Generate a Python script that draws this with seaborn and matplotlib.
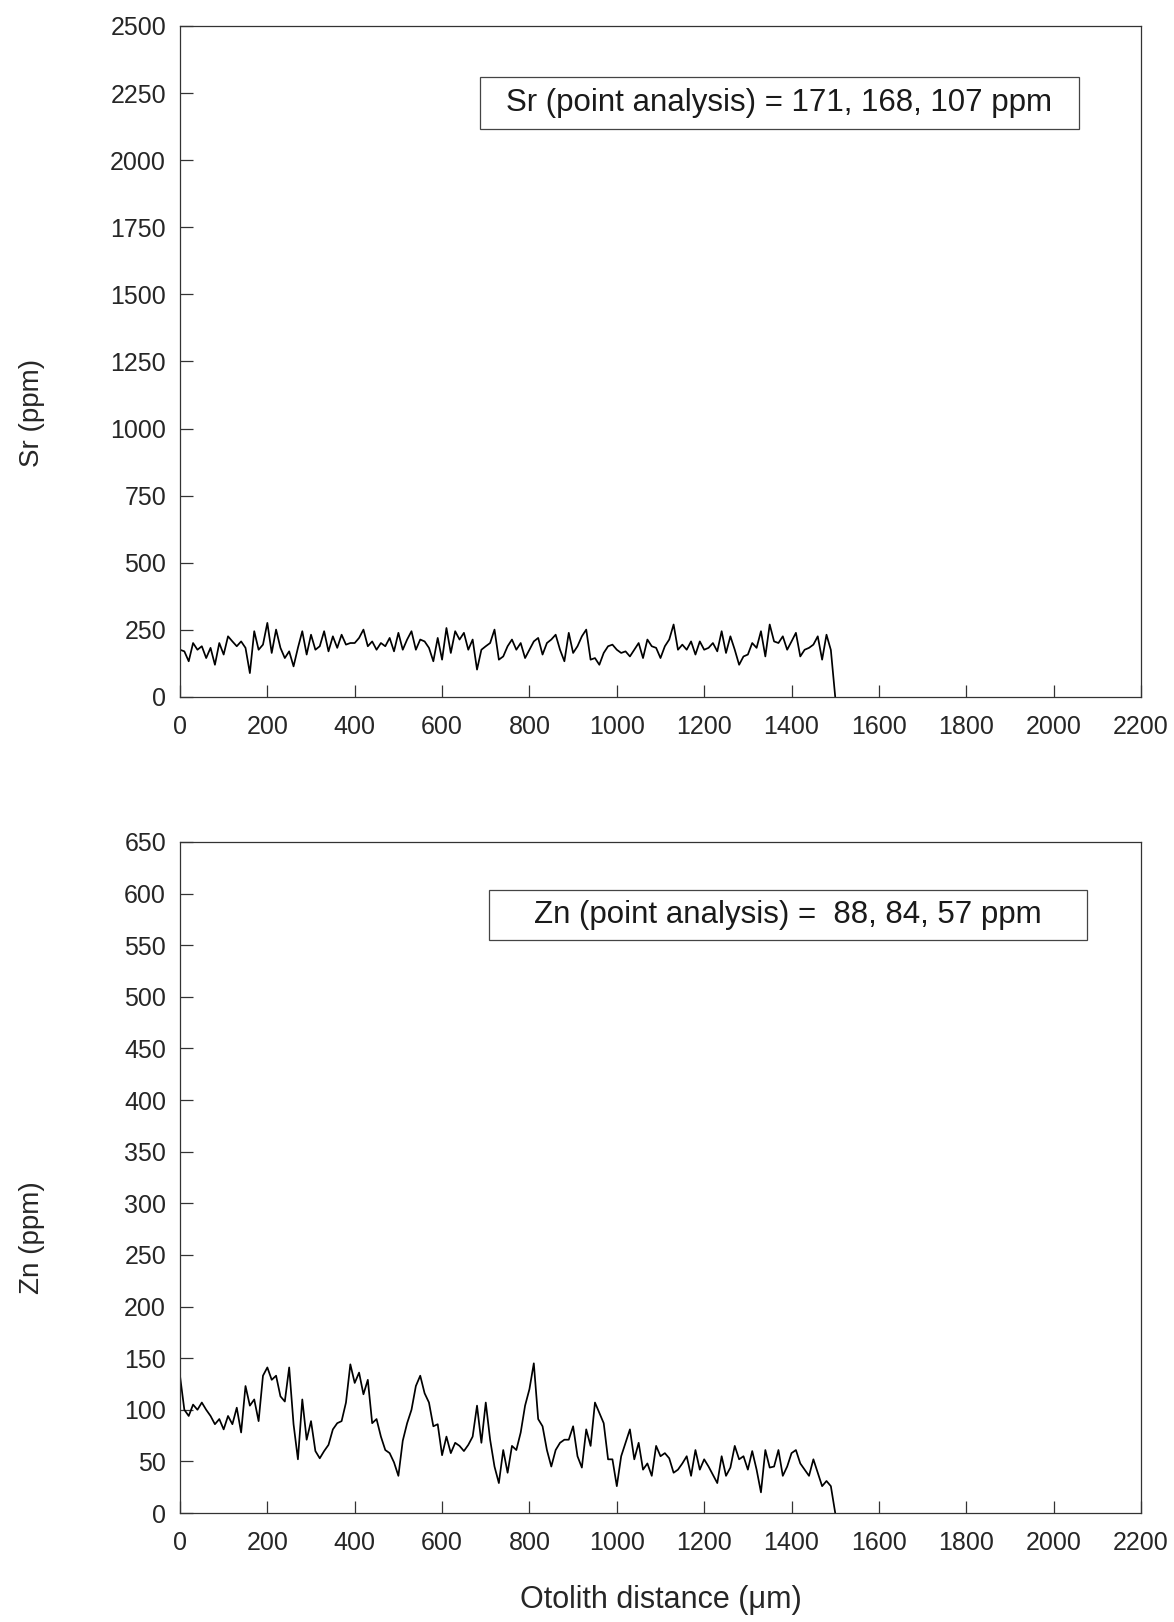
import numpy as np
import pandas as pd
import matplotlib
matplotlib.use("Agg")
import matplotlib.pyplot as plt
from matplotlib.patches import Rectangle
import seaborn as sns

# Laser-ablation transect across the otolith, sampled every 10 µm
distance_um = list(range(0, 1510, 10))

sr_ppm = [
    176, 170, 133, 201, 176, 189, 145, 183, 120, 201,
    158, 226, 207, 189, 207, 183, 89, 245, 176, 195,
    276, 164, 251, 183, 145, 170, 114, 183, 245, 158,
    232, 176, 189, 245, 170, 226, 183, 232, 195, 201,
    201, 220, 251, 189, 207, 176, 201, 189, 220, 170,
    239, 176, 214, 245, 176, 214, 207, 183, 133, 220,
    139, 257, 164, 245, 214, 239, 176, 214, 102, 176,
    189, 201, 251, 139, 151, 189,
    214, 176, 201, 145, 176, 207, 220, 158, 201, 214,
    232, 176, 133, 239, 164, 189, 226, 251, 139, 145,
    120, 164, 189, 195, 176, 164, 170, 151, 176, 201,
    145, 214, 189, 183, 145, 189, 214, 270, 176, 195,
    176, 207, 158, 207, 176, 183, 201, 170, 245, 164,
    226, 176, 120, 151, 158, 201, 183, 245, 151, 270,
    207, 201, 226, 176, 207, 239, 151, 176, 183, 195,
    226, 139, 232, 175,
    0,
]

zn_ppm = [
    133, 100, 94, 105, 100, 107, 100, 94, 86, 91,
    81, 94, 86, 102, 78, 123, 104, 110, 89, 133,
    141, 129, 133, 113, 108, 141, 86, 52, 110, 71,
    89, 60, 53, 60, 66, 81, 87, 89, 107, 144,
    126, 136, 115, 129, 87, 91, 74, 61, 58, 49,
    36, 70, 87, 100, 123, 133, 116, 107, 84, 86,
    56, 74, 58, 68, 65, 60, 66, 74, 104, 68,
    107, 71, 45, 29, 61, 39,
    65, 61, 78, 104, 120, 145, 91, 84, 61, 45,
    61, 68, 71, 71, 84, 55, 44, 81, 65, 107,
    97, 87, 52, 52, 26, 55, 68, 81, 52, 68,
    42, 48, 36, 65, 55, 58, 53, 39, 42, 48,
    55, 36, 61, 42, 52, 45, 37, 29, 55, 36,
    44, 65, 52, 55, 42, 60, 42, 20, 61, 44,
    45, 61, 36, 45, 58, 61, 48, 42, 36, 52,
    39, 26, 31, 26,
    0,
]

sr_note = "Sr (point analysis) = 171, 168, 107 ppm"
zn_note = "Zn (point analysis) =  88, 84, 57 ppm"
x_ticks = list(range(0, 2201, 200))
sr_ticks = list(range(0, 2501, 250))
zn_ticks = list(range(0, 651, 50))

assert len(sr_ppm) == len(distance_um) == len(zn_ppm)

df = pd.DataFrame({"distance": distance_um, "Sr": sr_ppm, "Zn": zn_ppm})

sns.set_style("ticks")
plt.rcParams["font.family"] = ["Liberation Sans", "DejaVu Sans"]
plt.rcParams["axes.linewidth"] = 0.9
plt.rcParams["axes.edgecolor"] = "#333333"

fig = plt.figure(figsize=(11.74, 16.22), dpi=100)
ax1 = fig.add_axes([0.1533, 0.5703, 0.8186, 0.4137])
ax2 = fig.add_axes([0.1533, 0.0672, 0.8186, 0.4137])

panels = [
    (ax1, "Sr", sr_ticks, sr_note, "Sr (ppm)", 0.423, (0.312, 0.8465, 0.623, 0.078)),
    (ax2, "Zn", zn_ticks, zn_note, "Zn (ppm)", 0.411, (0.322, 0.8535, 0.622, 0.0756)),
]

for ax, col, yticks, note, ylab, ylab_y, box in panels:
    sns.lineplot(data=df, x="distance", y=col, ax=ax, color="black",
                 linewidth=1.25, estimator=None)
    ax.set_xlim(0, 2200)
    ax.set_ylim(0, yticks[-1])
    ax.set_xticks(x_ticks)
    ax.set_yticks(yticks)
    ax.tick_params(direction="in", length=9, width=0.9, color="#333333",
                   labelsize=18, top=False, right=False)
    ax.tick_params(axis="x", pad=13)
    ax.tick_params(axis="y", pad=10)
    for s in ax.spines.values():
        s.set_visible(True)
        s.set_color("#333333")
        s.set_linewidth(0.9)
    ax.set_xlabel("")
    ax.set_ylabel(ylab, fontsize=20)
    ax.yaxis.set_label_coords(-0.1405, ylab_y)
    bx, by, bw, bh = box
    ax.add_patch(Rectangle((bx, by), bw, bh, transform=ax.transAxes,
                           fill=False, edgecolor="#444444", linewidth=0.9))
    ax.text(bx + bw / 2, by + bh / 2, note, transform=ax.transAxes,
            ha="center", va="center", fontsize=22.5, color="#1a1a1a")

ax2.set_xlabel("Otolith distance (μm)", fontsize=22)
ax2.xaxis.set_label_coords(0.5, -0.108)

fig.savefig("out.png", dpi=100)
